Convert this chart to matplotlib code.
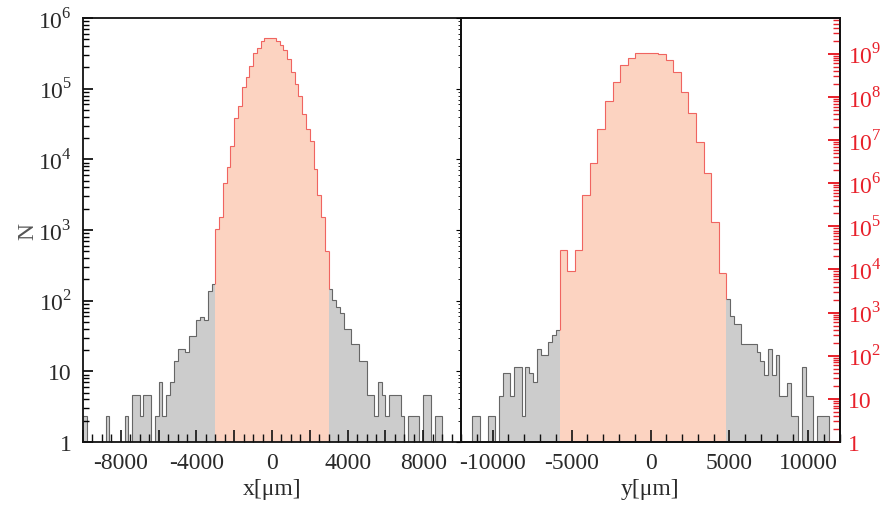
import numpy as np
import matplotlib.pyplot as plt
from matplotlib.ticker import FixedLocator, FuncFormatter, MultipleLocator, NullFormatter

plt.rcParams['font.family'] = ['Liberation Serif', 'DejaVu Serif']
plt.rcParams['mathtext.fontset'] = 'custom'
plt.rcParams['mathtext.rm'] = 'Liberation Serif'
plt.rcParams['axes.unicode_minus'] = False

# ---- data (counts per bin) ----
# x: 200 um bins from -10000 to 10000
x_tail_lo = [2.3, 0, 0, 0, 0, 0, 2.3, 0, 0, 0, 0, 2.3, 0, 4.7, 4.7, 2.3, 4.7, 4.7, 0, 2.3,
             7, 2.3, 4.7, 7, 14, 21, 21, 19, 32, 32, 54, 59, 54, 139, 170]
x_core = [1050, 1550, 4600, 7900, 15500, 39000, 56000, 105000, 148000, 209000,
          316000, 380000, 468000, 513000, 513000, 513000, 468000, 417000, 355000, 263000,
          170000, 117000, 78000, 44000, 27000, 18200, 7400, 3100, 1550, 510]
x_tail_hi = [148, 103, 81, 67, 40, 40, 24, 24, 14, 14, 4.7, 4.7, 2.3, 7, 4.7, 2.3, 4.7, 4.7,
             4.7, 2.3, 0, 2.3, 2.3, 2.3, 0, 4.7, 4.7, 0, 2.3, 2.3, 0, 0, 0, 0, 0]
x_cut = 3000
x_bin = 200
x_range = 10000

# y: tails in 240 um bins, core in 480 um bins, range -12000..12000
y_tail_lo = [0, 0, 0, 2.3, 2.3, 0, 0, 2.3, 2.3, 0, 4.5, 9.5, 9.5, 4.5, 11.5, 11.5, 2.3,
             11.5, 9.5, 7, 21, 17, 17, 26, 33, 39]
y_core = [525, 263, 525, 3160, 8900, 27000, 68000, 126000, 214000, 275000, 324000,
          324000, 324000, 309000, 257000, 170000, 91000, 45000, 17800, 6500, 1290, 250]
y_tail_hi = [105, 60, 47, 47, 24, 24, 24, 24, 19, 14, 9, 21, 9, 17, 4.5, 4.5, 6.8, 2.3, 2.3,
             0, 11.4, 4.5, 4.5, 0, 2.3, 2.3, 2.3, 0, 0, 0]
y_cut_lo, y_cut_hi = -5760, 4800
y_tail_bin, y_core_bin = 240, 480
y_range = 12000

left_ticks = [0, 1, 2, 3, 4, 5, 6]
right_ticks = [0, 1, 2, 3, 4, 5, 6, 7, 8, 9]

GRAY = '#cccccc'
GRAY_LINE = '#666666'
ORANGE = '#fcd3c1'
RED_LINE = '#f06460'
RED = '#e8202a'
TXT = '#2a2a2a'


def log_label(v, pos=None):
    n = int(round(np.log10(v)))
    if n == 0:
        return '1'
    if n == 1:
        return '10'
    return '$10^{%d}$' % n


def draw_hist(ax, vals, edges, fill, line):
    v = np.maximum(np.asarray(vals, float), 1)
    ax.stairs(v, edges, baseline=1, fill=True, color=fill, lw=0)
    ax.stairs(v, edges, baseline=None, color=line, lw=0.8)


def join(ax, x, tail_val, core_val):
    # red edge of the core rises from the tail level
    ax.vlines(x, max(tail_val, 1), core_val, color=RED_LINE, lw=0.8)


fig = plt.figure(figsize=(8.81, 5.10), dpi=100)
H = 424 / 510
B = 1 - 443 / 510
axl = fig.add_axes([83 / 881, B, 378 / 881, H])
axr = fig.add_axes([461 / 881, B, 379 / 881, H])

# left panel: x
draw_hist(axl, x_tail_lo, np.arange(-x_range, -x_cut + 1, x_bin), GRAY, GRAY_LINE)
draw_hist(axl, x_tail_hi, np.arange(x_cut, x_range + 1, x_bin), GRAY, GRAY_LINE)
draw_hist(axl, x_core, np.arange(-x_cut, x_cut + 1, x_bin), ORANGE, RED_LINE)
join(axl, -x_cut, x_tail_lo[-1], x_core[0])
join(axl, x_cut, x_tail_hi[0], x_core[-1])
axl.set_xlim(-x_range, x_range)

# right panel: y
draw_hist(axr, y_tail_lo, np.arange(-y_range, y_cut_lo + 1, y_tail_bin), GRAY, GRAY_LINE)
draw_hist(axr, y_tail_hi, np.arange(y_cut_hi, y_range + 1, y_tail_bin), GRAY, GRAY_LINE)
draw_hist(axr, y_core, np.arange(y_cut_lo, y_cut_hi + 1, y_core_bin), ORANGE, RED_LINE)
join(axr, y_cut_lo, y_tail_lo[-1], y_core[0])
join(axr, y_cut_hi, y_tail_hi[0], y_core[-1])
axr.set_xlim(-y_range, y_range)

for ax in (axl, axr):
    ax.set_yscale('log')
    ax.set_ylim(1, 1e6)
    for s in ax.spines.values():
        s.set_linewidth(1.3)
        s.set_color('#111111')
    ax.tick_params(axis='x', which='major', direction='in', length=9, width=1.2,
                   labelsize=17, pad=7, colors='#111111', labelcolor=TXT, top=False)
    ax.tick_params(axis='x', which='minor', direction='in', length=5.5, width=1.0,
                   colors='#111111', top=False)

axl.xaxis.set_major_locator(MultipleLocator(2000))
axl.xaxis.set_minor_locator(MultipleLocator(500))
axl.xaxis.set_major_formatter(FuncFormatter(
    lambda v, p: '%d' % v if abs(v) < x_range and int(round(v)) % 4000 == 0 else ''))
axr.xaxis.set_major_locator(MultipleLocator(5000))
axr.xaxis.set_minor_locator(MultipleLocator(1000))
axr.xaxis.set_major_formatter(FuncFormatter(lambda v, p: '%d' % v))

# left y axis
axl.yaxis.set_major_locator(FixedLocator([10.0 ** n for n in left_ticks]))
axl.yaxis.set_minor_locator(FixedLocator(
    [m * 10.0 ** n for n in left_ticks[:-1] for m in range(2, 10)]))
axl.yaxis.set_major_formatter(FuncFormatter(log_label))
axl.yaxis.set_minor_formatter(NullFormatter())
axl.tick_params(axis='y', which='major', direction='in', length=7, width=1.2,
                labelsize=17, pad=8, labelcolor=TXT, right=False)
axl.tick_params(axis='y', which='minor', direction='in', length=4, width=1.0, right=False)
axl.set_ylabel('N', fontsize=17, color='#555555')
axl.yaxis.set_label_coords(-0.118, 0.5)

axr.tick_params(axis='y', which='both', left=False, right=False,
                labelleft=False, labelright=False)

# red axis on the right
ax2 = axr.twinx()
ax2.set_yscale('log')
ax2.set_ylim(1, 10 ** 9.83)
ax2.yaxis.set_major_locator(FixedLocator([10.0 ** n for n in right_ticks]))
ax2.yaxis.set_minor_locator(FixedLocator(
    [m * 10.0 ** n for n in right_ticks for m in range(2, 10)]))
ax2.yaxis.set_major_formatter(FuncFormatter(log_label))
ax2.yaxis.set_minor_formatter(NullFormatter())
ax2.tick_params(axis='y', which='major', direction='in', length=8.5, width=1.4,
                colors=RED, labelsize=17, pad=6)
ax2.tick_params(axis='y', which='minor', direction='in', length=5, width=1.0, colors=RED)
for s in ax2.spines.values():
    s.set_linewidth(1.3)
    s.set_color('#111111')

axl.set_xlabel('x[\u03bcm]', fontsize=17, color=TXT, labelpad=4)
axr.set_xlabel('y[\u03bcm]', fontsize=17, color=TXT, labelpad=4)

fig.savefig('out.png', dpi=100)
